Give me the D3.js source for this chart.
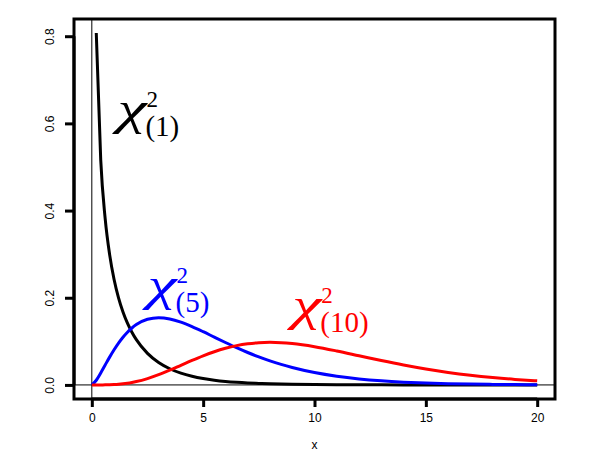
<!DOCTYPE html>
<html><head><meta charset="utf-8">
<script src="https://cdn.jsdelivr.net/npm/d3@7"></script>
<style>html,body{margin:0;padding:0;background:#fff;}svg{display:block;}</style>
</head><body>
<script>
// ---- data ----
const xValues = [0,0.2,0.4,0.6,0.8,1.0,1.2,1.4,1.6,1.8,2.0,2.5,3,3.5,4,4.5,5,5.5,6,6.5,7,7.5,8,8.5,9,10,11,12,13,14,15,16,17,18,19,20];
const df1 = [null,0.8072,0.5164,0.3815,0.2990,0.2420,0.1999,0.1674,0.1417,0.1209,0.1038,0.0723,0.0514,0.0371,0.0270,0.0198,0.0146,0.0109,0.0081,0.0061,0.0046,0.0035,0.0026,0.0020,0.0015,0.00085,0.00049,0.00029,0.00017,0.0001,0.00006,0.00003,0.00002,0.00001,0.00001,0.00001];
const df5 = [0,0.01076,0.02754,0.04578,0.06378,0.08066,0.09594,0.10939,0.12092,0.13057,0.13837,0.15060,0.15417,0.15134,0.14398,0.13380,0.12207,0.10961,0.09730,0.08544,0.07437,0.06431,0.05511,0.04701,0.03989,0.02833,0.01983,0.01370,0.00937,0.00635,0.00427,0.00286,0.00190,0.00125,0.00082,0.00054];
const df10 = [0,0.0000019,0.0000273,0.000125,0.000358,0.00079,0.00148,0.00248,0.00383,0.00556,0.00766,0.01457,0.02353,0.03396,0.04511,0.05628,0.06680,0.07617,0.08402,0.09012,0.09440,0.09689,0.09769,0.09695,0.09490,0.08773,0.07791,0.06693,0.05591,0.04561,0.03646,0.02863,0.02213,0.01687,0.01270,0.00946];
const seriesNames = ["1","5","10"];
const seriesColors = ["#000000","#0000ff","#ff0000"];
const xTicks = [0,5,10,15,20];
const yTicks = [0.0,0.2,0.4,0.6,0.8];
const yTickLabels = ["0.0","0.2","0.4","0.6","0.8"];
// label anchors in data units (left of chi, baseline)
const labelX = [1.15, 2.5, 9.0];
const labelY = [0.5985, 0.1948, 0.149];

const W = 600, H = 452;
const svg = d3.select("body").append("svg").attr("width", W).attr("height", H);
const x = d3.scaleLinear().domain([-0.8, 20.8]).range([74, 555]);
const y = d3.scaleLinear().domain([-0.03229, 0.83949]).range([399, 19]);

// reference lines
svg.append("line").attr("x1", 74).attr("x2", 555).attr("y1", y(0)).attr("y2", y(0))
  .attr("stroke", "#000").attr("stroke-width", 1);
svg.append("line").attr("x1", x(0)).attr("x2", x(0)).attr("y1", 19).attr("y2", 399)
  .attr("stroke", "#000").attr("stroke-width", 1);

const seriesData = [df1, df5, df10];
const line = d3.line().defined(d => d[1] !== null).x(d => x(d[0])).y(d => y(d[1])).curve(d3.curveMonotoneX);
seriesData.forEach((s, i) => {
  svg.append("path").datum(xValues.map((xv, j) => [xv, s[j]]))
    .attr("d", line).attr("fill", "none").attr("stroke", seriesColors[i])
    .attr("stroke-width", 3).attr("stroke-linejoin", "round").attr("stroke-linecap", "butt");
});

// box
svg.append("rect").attr("x", 74).attr("y", 19).attr("width", 481).attr("height", 380)
  .attr("fill", "none").attr("stroke", "#000").attr("stroke-width", 3);

// axes
const xAxis = d3.axisBottom(x).tickValues(xTicks).tickSize(8).tickPadding(6).tickFormat(d3.format("d"));
const gx = svg.append("g").attr("transform", "translate(0,399)").call(xAxis);
gx.select(".domain").attr("stroke-width", 3).attr("d", `M${x(0)},0H${x(20)}`);
gx.selectAll(".tick line").attr("stroke-width", 3);
gx.selectAll(".tick text").attr("font-family", "Liberation Sans, Arial, sans-serif").attr("font-size", 12).attr("fill", "#000");

const yAxis = d3.axisLeft(y).tickValues(yTicks).tickSize(9).tickFormat((d, i) => yTickLabels[i]);
const gy = svg.append("g").attr("transform", "translate(74,0)").call(yAxis);
gy.select(".domain").attr("stroke-width", 3).attr("d", `M0,${y(0)}V${y(0.8)}`);
gy.selectAll(".tick line").attr("stroke-width", 3);
gy.selectAll(".tick text").attr("font-family", "Liberation Sans, Arial, sans-serif").attr("font-size", 12).attr("fill", "#000")
  .attr("x", null).attr("dy", null).attr("text-anchor", "middle")
  .attr("transform", "translate(-20,0) rotate(-90)");

// x label
svg.append("text").attr("x", x(10)).attr("y", 449).attr("text-anchor", "middle")
  .attr("font-family", "Liberation Sans, Arial, sans-serif").attr("font-size", 12).text("x");

// chi-square labels
seriesNames.forEach((nm, i) => {
  const lx = x(labelX[i]), ly = y(labelY[i]);
  const g = svg.append("g").attr("fill", seriesColors[i]).attr("font-family", "Liberation Serif, Times New Roman, serif");
  g.append("text").attr("x", lx).attr("y", ly).attr("font-size", 46).attr("font-style", "italic")
    .attr("textLength", 29).attr("lengthAdjust", "spacingAndGlyphs").text("χ");
  g.append("text").attr("x", lx + 29).attr("y", ly - 17).attr("font-size", 23).text("2");
  g.append("text").attr("x", lx + 28).attr("y", ly + 12).attr("font-size", 29).text("(" + nm + ")");
});
</script>
</body></html>
